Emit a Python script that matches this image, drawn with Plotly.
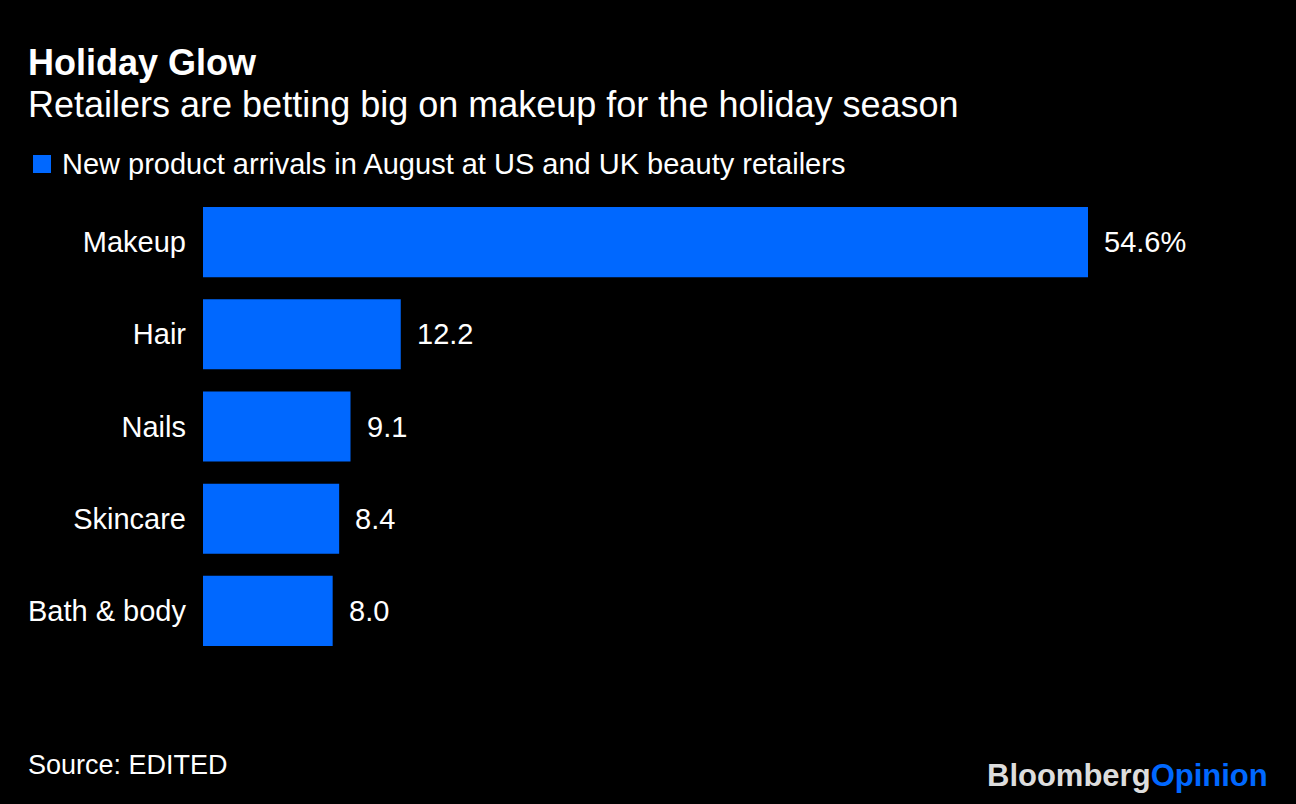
import plotly.graph_objects as go

categories = ["Makeup", "Hair", "Nails", "Skincare", "Bath & body"]
values = [54.6, 12.2, 9.1, 8.4, 8.0]
value_labels = ["54.6%", "12.2", "9.1", "8.4", "8.0"]
series_name = "New product arrivals in August at US and UK beauty retailers"

BLUE = "#0068FF"
FONT = "Liberation Sans, Arial, Helvetica, sans-serif"
W, H = 1296, 804
ML, MR, MT, MB = 203, 28, 196, 147
PW, PH = W - ML - MR, H - MT - MB


def px(x):
    return (x - ML) / PW


def py(y):
    return (H - MB - y) / PH


fig = go.Figure()
fig.add_trace(go.Bar(
    y=categories, x=values, orientation="h",
    marker=dict(color=BLUE, line=dict(width=0)),
    width=0.76, name=series_name, showlegend=False,
    hoverinfo="x+y",
))

for c, v, t in zip(categories, values, value_labels):
    fig.add_annotation(x=v, y=c, xref="x", yref="y", text=t, showarrow=False,
                       xanchor="left", xshift=14, font=dict(size=29, color="white", family=FONT))

# Title / subtitle
fig.add_annotation(x=px(26), y=py(62), xref="paper", yref="paper", text="<b>Holiday Glow</b>",
                   showarrow=False, xanchor="left", yanchor="middle",
                   font=dict(size=36, color="white", family=FONT))
fig.add_annotation(x=px(26), y=py(104), xref="paper", yref="paper",
                   text="Retailers are betting big on makeup for the holiday season",
                   showarrow=False, xanchor="left", yanchor="middle",
                   font=dict(size=36, color="white", family=FONT))

# Legend
fig.add_shape(type="rect", xref="paper", yref="paper",
              x0=px(33), x1=px(51), y0=py(173), y1=py(155),
              fillcolor=BLUE, line=dict(width=0), layer="above")
fig.add_annotation(x=px(60), y=py(164), xref="paper", yref="paper", text=series_name,
                   showarrow=False, xanchor="left", yanchor="middle",
                   font=dict(size=29, color="white", family=FONT))

# Source
fig.add_annotation(x=px(26), y=py(765), xref="paper", yref="paper", text="Source: EDITED",
                   showarrow=False, xanchor="left", yanchor="middle",
                   font=dict(size=27, color="white", family=FONT))
fig.add_annotation(x=px(1270), y=py(775), xref="paper", yref="paper",
                   text="<b><span style='color:#DDDDDD'>Bloomberg</span><span style='color:#0068FF'>Opinion</span></b>",
                   showarrow=False, xanchor="right", yanchor="middle",
                   font=dict(size=31, family=FONT))

fig.update_layout(
    width=W, height=H,
    paper_bgcolor="black", plot_bgcolor="black",
    margin=dict(l=ML, r=MR, t=MT, b=MB),
    font=dict(family=FONT, color="white"),
    xaxis=dict(range=[0, PW / (885 / 54.6)], visible=False, fixedrange=True),
    yaxis=dict(autorange="reversed", showgrid=False, zeroline=False, showline=False,
               ticks="", ticklabelstandoff=16, tickfont=dict(size=29, color="white", family=FONT),
               fixedrange=True),
    bargap=0.24,
)

fig.write_html("out.html", config={"displayModeBar": False},
               post_script="document.body.style.margin='0';document.body.style.background='black';")
